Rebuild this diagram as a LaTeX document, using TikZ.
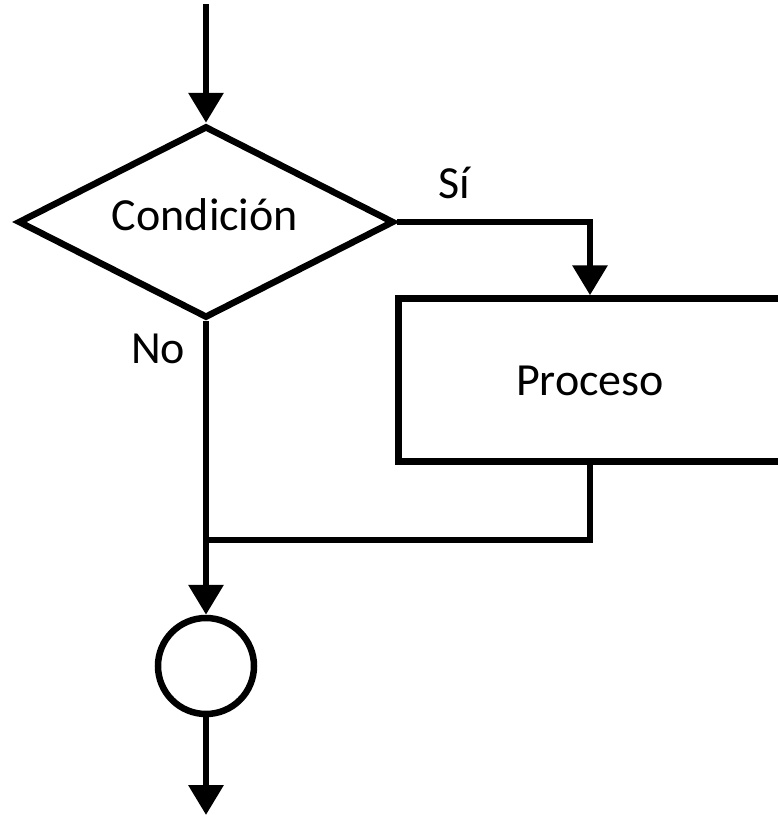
\documentclass[tikz,border=0pt]{standalone}
\usepackage{fontspec}
\setmainfont{Carlito}
\usetikzlibrary{shapes.geometric,arrows.meta}

\begin{document}
\begin{tikzpicture}[x=1pt,y=-1pt,
  line width=6.5pt,
  every node/.style={font=\fontsize{46}{55}\selectfont},
  flow/.style={draw, line width=6.5pt, -{Triangle[width=34pt,length=30pt]}},
  plain/.style={draw, line width=6.5pt},
  decision/.style={diamond, draw, line width=6.5pt, inner sep=0pt,
    minimum width=376pt, minimum height=192pt},
  process/.style={rectangle, draw, line width=6.5pt, inner sep=0pt,
    minimum width=383pt, minimum height=163pt},
  connector/.style={circle, draw, line width=6.5pt, inner sep=0pt,
    minimum size=96pt},
  label/.style={inner sep=0pt, anchor=base}]

  % page frame
  \useasboundingbox (0,0) rectangle (778,815);
  \clip (0,0) rectangle (778,815);

  % shapes
  \node[decision] (cond) at (206,222) {};
  \node[label] (condtxt) at (205,230) {Condición};
  \node[process] (proc) at (590,380) {};
  \node[label] (proctxt) at (590,395) {Proceso};
  \node[connector] (circ) at (206,666) {};

  % branch labels
  \node[label] (si) at (454,198) {Sí};
  \node[label] (no) at (158,363) {No};

  % free ends and the joining point
  \coordinate (start) at (206,4);
  \coordinate (join) at (206,540);
  \coordinate (finish) at (206,815);

  % connectors
  \draw[flow] (start) -- (cond.north);
  \draw[flow] (cond.east) -| (proc.north);
  \draw[plain] (proc.south) |- (join);
  \draw[flow] (cond.south) -- (circ.north);
  \draw[flow] (circ.south) -- (finish);
\end{tikzpicture}
\end{document}
